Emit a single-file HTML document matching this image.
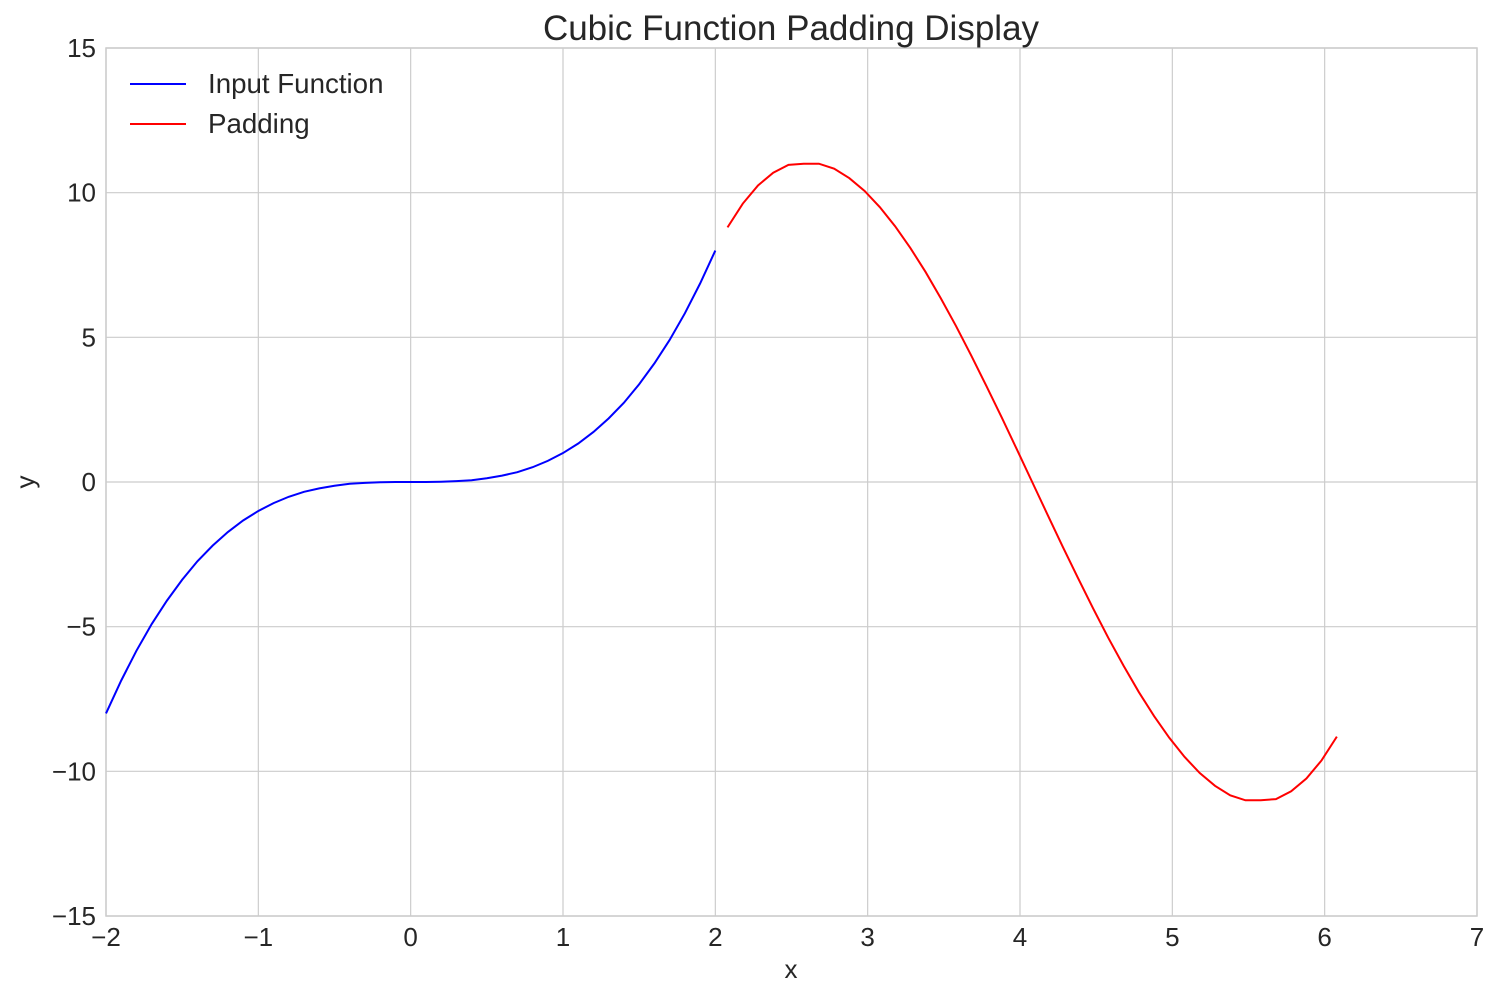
<!DOCTYPE html>
<html><head><meta charset="utf-8"><style>
body{margin:0;background:#fff;}
svg text{font-family:"Liberation Sans",sans-serif;fill:#262626;}
</style></head><body>
<svg id="chart" width="1500" height="1000">
<rect x="106" y="48" width="1371" height="868" fill="#fff" stroke="#ccc" stroke-width="1.5"/>
<g id="grid"></g><g id="ticks"></g><g id="series"></g>
<text x="791" y="40" font-size="35" text-anchor="middle">Cubic Function Padding Display</text>
<text x="791" y="978" font-size="26" text-anchor="middle">x</text>
<text x="34" y="482" font-size="26" text-anchor="middle" transform="rotate(-90 34 482)">y</text>
<g>
<line x1="130" y1="84" x2="186" y2="84" stroke="#0000ff" stroke-width="2"/>
<text x="208" y="93" font-size="27.7">Input Function</text>
<line x1="130" y1="124" x2="186" y2="124" stroke="#ff0000" stroke-width="2"/>
<text x="208" y="133" font-size="27.7">Padding</text>
</g>
</svg>
<script>
const xTicks=[-2,-1,0,1,2,3,4,5,6,7];
const yTicks=[-15,-10,-5,0,5,10,15];
const inputX0=-2, inputStep=0.1;
const inputY=[-8,-6.86,-5.83,-4.91,-4.10,-3.38,-2.74,-2.20,-1.73,-1.33,-1,-0.73,-0.51,-0.34,-0.22,-0.13,-0.06,-0.03,-0.01,0,0,0,0.01,0.03,0.06,0.13,0.22,0.34,0.51,0.73,1,1.33,1.73,2.20,2.74,3.38,4.10,4.91,5.83,6.86,8];
const padX0=2.08, padStep=0.1;
const padY=[8.8,9.62,10.25,10.69,10.96,11.0,11.0,10.83,10.5,10.06,9.5,8.84,8.09,7.26,6.35,5.39,4.37,3.31,2.23,1.12,0,-1.12,-2.23,-3.31,-4.37,-5.39,-6.35,-7.26,-8.09,-8.84,-9.5,-10.06,-10.5,-10.83,-11.0,-11.0,-10.96,-10.69,-10.25,-9.62,-8.8];
const X=v=>106+(v+2)*(1371/9), Y=v=>916-(v+15)*(868/30);
const NS="http://www.w3.org/2000/svg";
const mk=(t,a,p)=>{const e=document.createElementNS(NS,t);for(const k in a)e.setAttribute(k,a[k]);p.appendChild(e);return e;};
const g=document.getElementById('grid'),tk=document.getElementById('ticks'),s=document.getElementById('series');
const fmt=v=>v<0?'\u2212'+(-v):''+v;
xTicks.forEach(v=>{
 const l=mk('line',{x1:X(v),x2:X(v),y1:48,y2:916,stroke:'#ccc','stroke-width':1.2},g);
 
 
 const t=mk('text',{x:X(v),y:946,'font-size':26,'text-anchor':'middle'},tk);t.textContent=fmt(v);
 
 
});
yTicks.forEach(v=>{
 const l=mk('line',{x1:106,x2:1477,y1:Y(v),y2:Y(v),stroke:'#ccc','stroke-width':1.2},g);
 
 
 const t=mk('text',{x:96,y:Y(v)+9,'font-size':26,'text-anchor':'end'},tk);t.textContent=fmt(v);
 
 
});
const p1=mk('polyline',{points:inputY.map((y,i)=>X(inputX0+i*inputStep)+','+Y(y)).join(' '),fill:'none',stroke:'#0000ff','stroke-width':2},s);


const p2=mk('polyline',{points:padY.map((y,i)=>X(padX0+i*padStep)+','+Y(y)).join(' '),fill:'none',stroke:'#ff0000','stroke-width':2},s);


</script>
</body></html>
